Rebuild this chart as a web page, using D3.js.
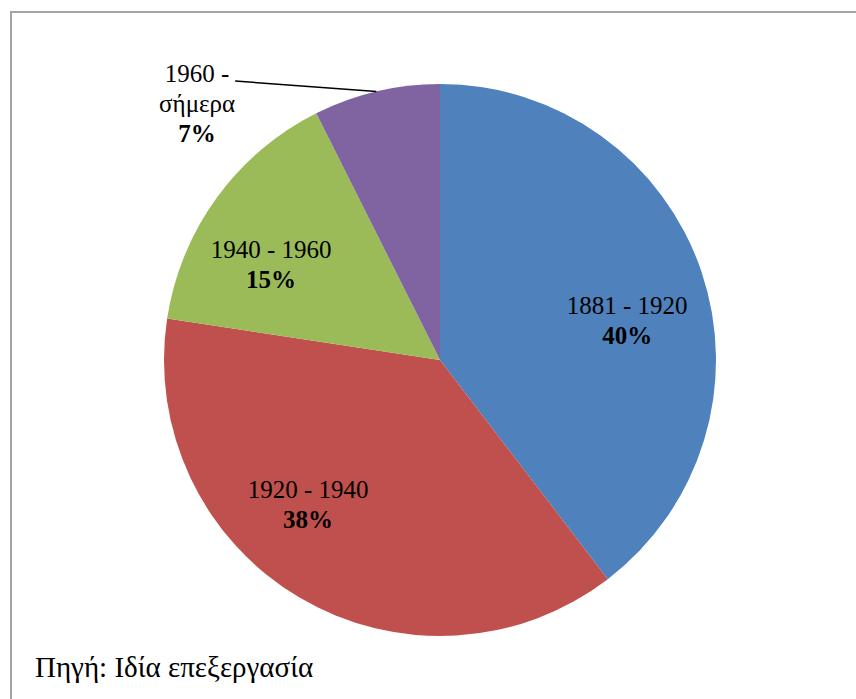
<!DOCTYPE html>
<html>
<head>
<meta charset="utf-8">
<script src="https://cdn.jsdelivr.net/npm/d3@7"></script>
<style>
    body { margin: 0; background: #fff; }
    svg text { font-family: "Liberation Serif", "Times New Roman", serif; fill: #000; }
</style>
</head>
<body>
<div class="chart-container"></div>
<script>
const categories = ['1881 - 1920', '1920 - 1940', '1940 - 1960', '1960 - σήμερα'];
const shares = [39.6, 37.8, 15.2, 7.4];
const colors = ['#4F81BD', '#C0504D', '#9BBB59', '#8064A2'];
// label anchors in pie-radius units (x right, y down), as placed in the original
const labelOffsets = [[0.678, -0.167], [-0.478, 0.50], [-0.612, -0.37], [-0.88, -1.007]];
const sourceText = 'Πηγή: Ιδία επεξεργασία';

const width = 856;
const height = 699;
const cx = 440;
const cy = 360;
const radius = 276;

const svg = d3.select('.chart-container').append('svg')
    .attr('width', width)
    .attr('height', height);

// outer frame (right/bottom edges fall outside the picture)
svg.append('rect')
    .attr('x', 11)
    .attr('y', 12)
    .attr('width', 900)
    .attr('height', 800)
    .attr('fill', 'none')
    .attr('stroke', '#A3A3A3')
    .attr('stroke-width', 2);

const pie = d3.pie().sort(null).value((d) => d);
const arc = d3.arc().innerRadius(0).outerRadius(radius);
const arcs = pie(shares);
const total = d3.sum(shares);

const g = svg.append('g').attr('transform', 'translate(' + cx + ',' + cy + ')');

g.selectAll('path.slice')
    .data(arcs)
    .enter()
    .append('path')
    .attr('class', 'slice')
    .attr('d', arc)
    .attr('fill', (d, i) => colors[i]);

const labels = g.selectAll('g.label')
    .data(arcs)
    .enter()
    .append('g')
    .attr('class', 'label')
    .attr('transform', (d, i) => {
        return 'translate(' + labelOffsets[i][0] * radius + ',' + labelOffsets[i][1] * radius + ')';
    });

labels.each(function (d, i) {
    const el = d3.select(this);
    let lines = [categories[i]];
    if (i === 3) {
        lines = ['1960 -', 'σήμερα'];
    }
    lines.forEach((line, k) => {
        el.append('text')
            .attr('text-anchor', 'middle')
            .attr('y', k * 30)
            .style('font-size', '25px')
            .text(line);
    });
    el.append('text')
        .attr('text-anchor', 'middle')
        .attr('y', lines.length * 30)
        .style('font-size', '25px')
        .style('font-weight', 'bold')
        .text(Math.round(d.data / total * 100) + '%');
});

// leader line for the small slice
const small = arcs[3];
const midAngle = (small.startAngle + small.endAngle) / 2;
const lx = labelOffsets[3][0] * radius;
const ly = labelOffsets[3][1] * radius;
g.append('line')
    .attr('x1', lx + 38)
    .attr('y1', ly - 1)
    .attr('x2', Math.sin(midAngle) * radius)
    .attr('y2', -Math.cos(midAngle) * radius)
    .attr('stroke', '#000')
    .attr('stroke-width', 1.5);

svg.append('text')
    .attr('x', 35)
    .attr('y', 677)
    .style('font-size', '29px')
    .text(sourceText);
</script>
</body>
</html>
